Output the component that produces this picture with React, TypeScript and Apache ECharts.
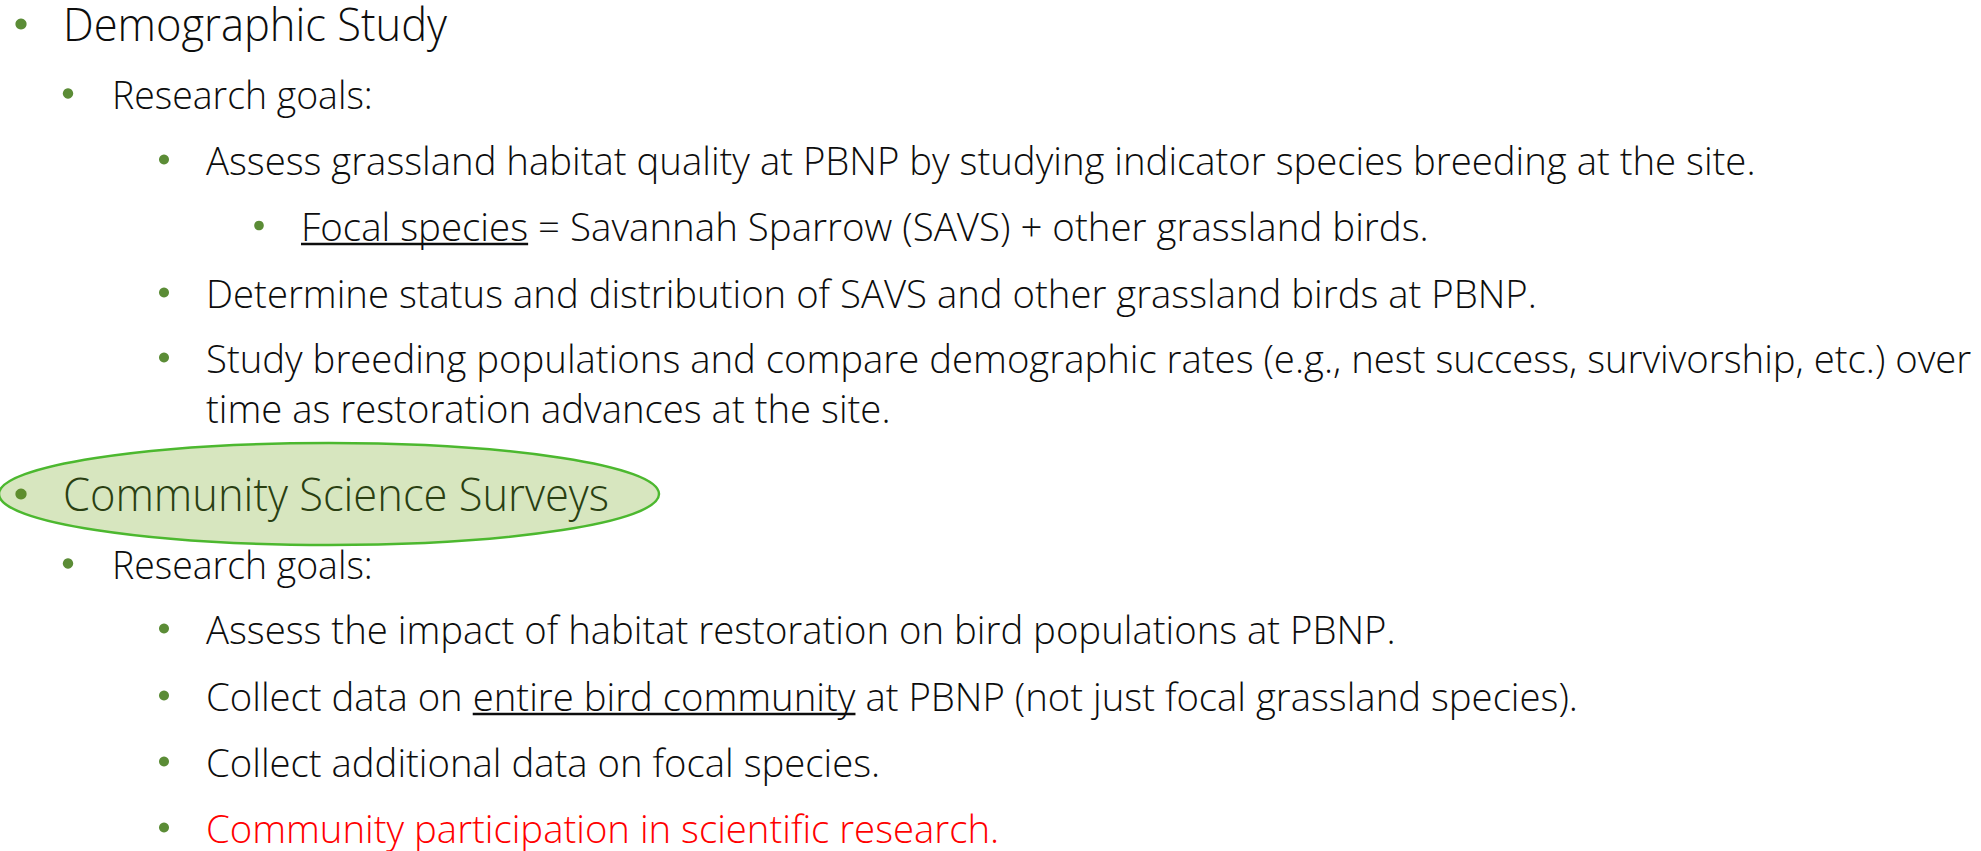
import React, { useEffect, useRef } from "react";
import * as echarts from "echarts";

// Slide content: each line is a list of text segments
const lineSegments: string[][] = [
  ["Demographic Study"],
  ["Research goals:"],
  ["Assess grassland habitat quality at PBNP by studying indicator species breeding at the site."],
  ["Focal species", " = Savannah Sparrow (SAVS) + other grassland birds."],
  ["Determine status and distribution of SAVS and other grassland birds at PBNP."],
  ["Study breeding populations and compare demographic rates (e.g., nest success, survivorship, etc.) over"],
  ["time as restoration advances at the site."],
  ["Community Science Surveys"],
  ["Research goals:"],
  ["Assess the impact of habitat restoration on bird populations at PBNP."],
  ["Collect data on ", "entire bird community", " at PBNP (not just focal grassland species)."],
  ["Collect additional data on focal species."],
  ["Community participation in scientific research."],
];
const segmentUnderline: boolean[][] = [
  [false], [false], [false], [true, false], [false], [false], [false],
  [false], [false], [false], [false, true, false], [false], [false],
];
const lineLevels: number[] = [1, 2, 3, 4, 3, 3, 3, 1, 2, 3, 3, 3, 3];
const lineHasBullet: boolean[] = [true, true, true, true, true, true, false, true, true, true, true, true, true];
const lineKinds: string[] = ["n", "n", "n", "n", "n", "n", "n", "hl", "n", "n", "n", "n", "red"];

// layout
const BASELINES = [40, 108, 174, 240, 307, 372, 422, 510, 578, 643, 710, 776, 842];
const TEXT_X: Record<number, number> = { 1: 63, 2: 112, 3: 206, 4: 301 };
const BULLET_X: Record<number, number> = { 1: 21, 2: 68, 3: 164, 4: 259 };
const FONT_SIZE: Record<number, number> = { 1: 46, 2: 38, 3: 38, 4: 38 };
const SCALE_X: Record<number, number> = { 1: 0.945, 2: 0.985, 3: 1.008, 4: 1.012 };
const BULLET_R: Record<number, number> = { 1: 5.6, 2: 5.2, 3: 5, 4: 4.8 };
const FONT_FAMILY = '"Open Sans", "Noto Sans", sans-serif';
const FONT_WEIGHT = 300;

const COLORS: Record<string, string> = { n: "#0d0d0d", hl: "#2a3f12", red: "#ff0000" };
const BULLET_COLOR = "#5b8c36";

function measure(ctx: CanvasRenderingContext2D, text: string, size: number, sx: number) {
  ctx.font = `${FONT_WEIGHT} ${size}px ${FONT_FAMILY}`;
  return ctx.measureText(text).width * sx;
}

export default function App() {
  const ref = useRef<HTMLDivElement>(null);
  useEffect(() => {
    document.body.style.margin = "0";
    if (!ref.current) return;
    const chart = echarts.init(ref.current, undefined, { renderer: "svg" });
    const canvas = document.createElement("canvas");
    const ctx = canvas.getContext("2d") as CanvasRenderingContext2D;

    const elements: any[] = [];
    // highlight ellipse behind "Community Science Surveys"
    elements.push({
      type: "ellipse",
      shape: { cx: 329, cy: 494, rx: 330, ry: 51 },
      style: { fill: "#d7e6bf", stroke: "#4cb82f", lineWidth: 2.5 },
      z: 0,
    });

    lineSegments.forEach((segs, i) => {
      const lvl = lineLevels[i];
      const size = FONT_SIZE[lvl];
      const sx = SCALE_X[lvl];
      const base = BASELINES[i];
      const color = COLORS[lineKinds[i]];
      if (lineHasBullet[i]) {
        elements.push({
          type: "circle",
          shape: { cx: BULLET_X[lvl], cy: base - (lvl === 1 ? 16 : 14.5), r: BULLET_R[lvl] },
          style: { fill: lineKinds[i] === "hl" ? "#5e8d2e" : BULLET_COLOR },
          z: 2,
        });
      }
      let x = TEXT_X[lvl];
      segs.forEach((t, j) => {
        const w = measure(ctx, t, size, sx);
        elements.push({
          type: "text",
          x,
          y: base - size * 0.36,
          scaleX: sx,
          z: 2,
          style: {
            text: t,
            fontSize: size,
            lineHeight: size,
            fontFamily: FONT_FAMILY,
            fontWeight: FONT_WEIGHT,
            fill: color,
            verticalAlign: "middle",
            align: "left",
          },
        });
        if (segmentUnderline[i][j]) {
          elements.push({
            type: "line",
            shape: { x1: x, y1: base + 4, x2: x + w, y2: base + 4 },
            style: { stroke: color, lineWidth: 2.5 },
            z: 2,
          });
        }
        x += w;
      });
    });

    chart.setOption({
      animation: false,
      backgroundColor: "#ffffff",
      graphic: { elements },
    });
    return () => chart.dispose();
  }, []);
  return <div ref={ref} style={{ position: "fixed", left: 0, top: 0, width: 1981, height: 851 }} />;
}
